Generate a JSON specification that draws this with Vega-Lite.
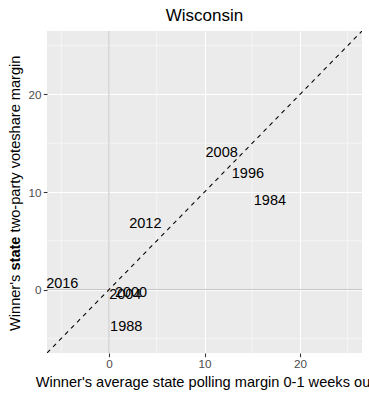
{
  "$schema": "https://vega.github.io/schema/vega-lite/v6.json",
  "width": 315,
  "height": 322,
  "autosize": {"type": "none"},
  "padding": {"left": 47, "top": 31, "right": 7, "bottom": 43},
  "background": "white",
  "title": {"text": "Wisconsin", "fontSize": 17, "fontWeight": "normal", "font": "Liberation Sans", "color": "black", "anchor": "middle", "offset": 6},
  "datasets": {
    "pts": [
      {"year": "2016", "poll": -4.9, "vote": 0.6},
      {"year": "2000", "poll": 2.3, "vote": -0.35},
      {"year": "2004", "poll": 1.7, "vote": -0.55},
      {"year": "1988", "poll": 1.8, "vote": -3.8},
      {"year": "2012", "poll": 3.8, "vote": 6.7},
      {"year": "2008", "poll": 11.8, "vote": 14.0},
      {"year": "1996", "poll": 14.55, "vote": 11.8},
      {"year": "1984", "poll": 16.85, "vote": 9.05}
    ],
    "minor": [{"v": -5}, {"v": 5}, {"v": 15}, {"v": 25}],
    "zero": [{"v": 0}],
    "diag": [{"poll": -6.5, "vote": -6.5}, {"poll": 26.5, "vote": 26.5}]
  },
  "config": {
    "view": {"fill": "#EBEBEB", "stroke": null},
    "font": "Liberation Sans",
    "axis": {
      "domain": false,
      "grid": true,
      "gridColor": "white",
      "gridWidth": 1.07,
      "tickColor": "#333333",
      "tickWidth": 1.07,
      "tickSize": 3.7,
      "labelColor": "#4D4D4D",
      "labelFontSize": 11.7,
      "labelPadding": 2.2,
      "labelFont": "Liberation Sans",
      "titleFont": "Liberation Sans",
      "titleFontSize": 14.6,
      "titleFontWeight": "normal",
      "titleColor": "black"
    }
  },
  "resolve": {"axis": {"y": "independent"}},
  "layer": [
    {
      "data": {"name": "minor"},
      "mark": {"type": "rule", "color": "white", "strokeWidth": 0.53},
      "encoding": {
        "x": {
          "field": "v", "type": "quantitative",
          "title": "Winner's average state polling margin 0-1 weeks out",
          "scale": {"domain": [-6.5, 26.5], "nice": false, "zero": false},
          "axis": {"values": [0, 10, 20], "titleX": 157.5, "titleAlign": "center", "titleY": 33, "titleBaseline": "alphabetic"}
        }
      }
    },
    {
      "data": {"name": "minor"},
      "mark": {"type": "rule", "color": "white", "strokeWidth": 0.53},
      "encoding": {
        "y": {
          "field": "v", "type": "quantitative",
          "title": "Winner's",
          "scale": {"domain": [-6.5, 26.5], "nice": false, "zero": false},
          "axis": {"orient": "left", "values": [0, 10, 20], "titleX": -28, "titleY": 299.5, "titleAlign": "left", "titleBaseline": "alphabetic", "titleAngle": 270}
        }
      }
    },
    {
      "data": {"name": "zero"},
      "mark": {"type": "rule", "color": "#BEBEBE", "strokeWidth": 0.9},
      "encoding": {
        "x": {"field": "v", "type": "quantitative", "title": "Winner's average state polling margin 0-1 weeks out"}
      }
    },
    {
      "data": {"name": "zero"},
      "mark": {"type": "rule", "color": "#BEBEBE", "strokeWidth": 0.9},
      "encoding": {
        "y": {
          "field": "v", "type": "quantitative",
          "title": "state",
          "axis": {"orient": "left", "labels": false, "ticks": false, "grid": false, "titleFontWeight": "bold", "titleX": -28, "titleY": 239.1, "titleAlign": "left", "titleBaseline": "alphabetic", "titleAngle": 270}
        }
      }
    },
    {
      "data": {"name": "diag"},
      "mark": {"type": "line", "color": "black", "strokeWidth": 1.07, "strokeDash": [4.3, 4.3], "clip": true},
      "encoding": {
        "x": {"field": "poll", "type": "quantitative", "title": "Winner's average state polling margin 0-1 weeks out"},
        "y": {
          "field": "vote", "type": "quantitative",
          "title": "two-party voteshare margin",
          "axis": {"orient": "left", "labels": false, "ticks": false, "grid": false, "titleX": -28, "titleY": 200.9, "titleAlign": "left", "titleBaseline": "alphabetic", "titleAngle": 270}
        }
      }
    },
    {
      "data": {"name": "pts"},
      "mark": {"type": "text", "fontSize": 14.5, "color": "black", "align": "center", "baseline": "middle", "font": "Liberation Sans"},
      "encoding": {
        "x": {"field": "poll", "type": "quantitative", "title": "Winner's average state polling margin 0-1 weeks out"},
        "y": {"field": "vote", "type": "quantitative", "axis": null},
        "text": {"field": "year", "type": "nominal"}
      }
    }
  ]
}
